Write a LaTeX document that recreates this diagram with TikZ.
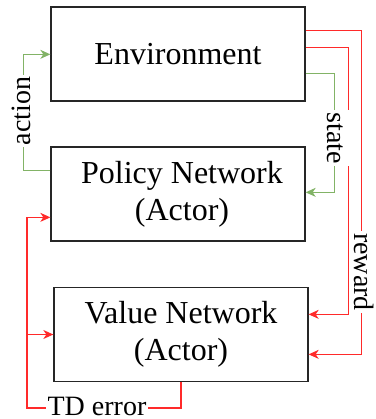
\documentclass[tikz,border=0pt]{standalone}
\usepackage{fontspec}
\setmainfont{Liberation Serif}
\usetikzlibrary{arrows.meta,calc}
\definecolor{linkgreen}{HTML}{82B366}
\definecolor{linkred}{HTML}{FF2A2A}

\begin{document}
\begin{tikzpicture}[x=1pt,y=-1pt,
  box/.style={draw=black!85, line width=1.3pt, minimum width=254pt,
    minimum height=94pt, inner sep=0pt, align=center,
    font=\fontsize{32}{37}\selectfont},
  flow/.style={line width=1.2pt, -{Stealth[length=10pt,width=9pt,inset=3pt]}},
  lbl/.style={fill=white, inner sep=2pt, text height=20pt, text depth=7pt,
    font=\fontsize{28}{34}\selectfont}
]
\useasboundingbox (0,0) rectangle (375,419);

% the three blocks
\node[box] (env)    at (178,54)    {Environment};
\node[box] (policy) at (178,194)   {\hspace*{8pt}Policy Network\\\hspace*{8pt}(Actor)};
\node[box] (value)  at (181,334.5) {Value Network\\(Actor)};

% action: policy -> environment
\draw[flow, linkgreen] ($(policy.north west)+(0,24)$) -- ++(-27,0)
  |- ($(env.north west)+(0,48)$);
\node[lbl, rotate=90] (actionlbl) at (24,111) {action};

% TD error: value -> policy and back into value
\coordinate (tdleft) at (27,408);
\coordinate (tdjoin) at (27,334.5);
\draw[flow, linkred] (value.south) |- (tdleft)
  |- ($(policy.north west)+(0,71)$);
\draw[flow, linkred] (tdjoin) -- (value.west);
\node[lbl, text depth=0pt, inner ysep=1pt, anchor=base] (tdlbl) at (97,415) {TD error};

% reward: environment -> value (two links)
\draw[flow, linkred] ($(env.north east)+(0,24)$) -- ++(56,0)
  |- ($(value.north east)+(0,67.5)$);
\node[lbl, rotate=-90] (rewardlbl) at (361,272) {reward};
\draw[flow, linkred] ($(env.north east)+(0,41)$) -- ++(43,0)
  |- ($(value.north east)+(0,27.5)$);

% state: environment -> policy
\draw[flow, linkgreen] ($(env.north east)+(0,67)$) -- ++(29,0)
  |- ($(policy.north east)+(0,46)$);
\node[lbl, rotate=-90] (statelbl) at (334,138) {state};
\end{tikzpicture}
\end{document}
